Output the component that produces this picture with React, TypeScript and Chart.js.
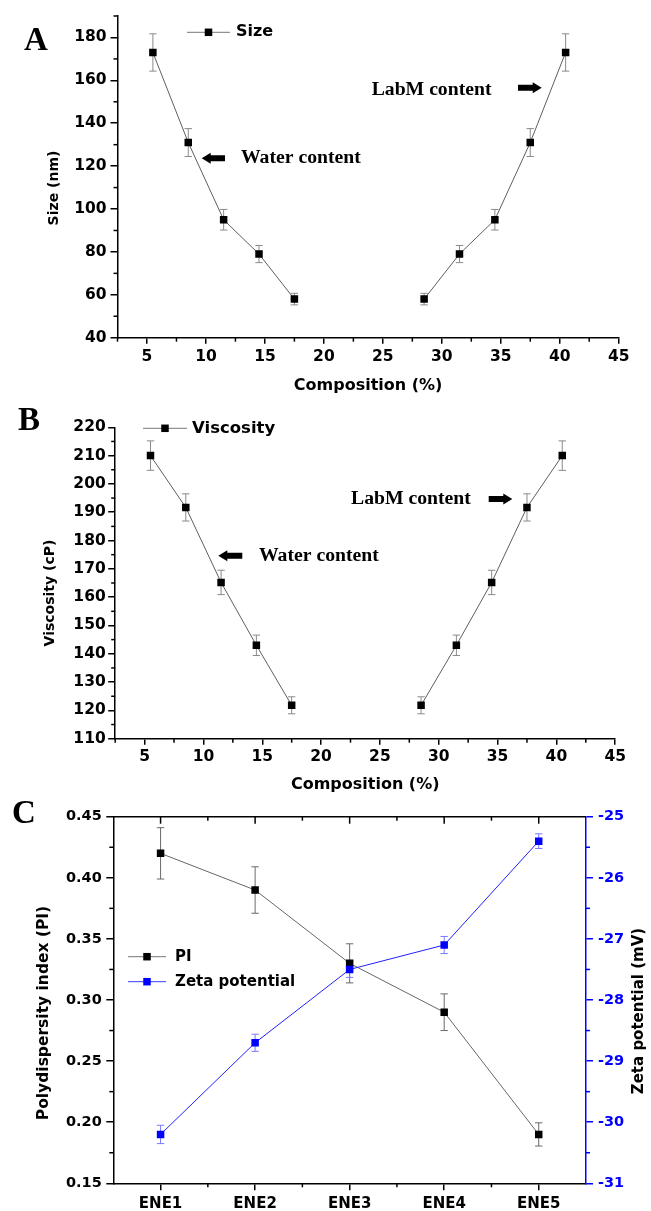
import React, { useEffect, useRef } from "react";
import { Chart, registerables } from "chart.js";

Chart.register(...registerables);

// ---------------- data ----------------
const compositionLeft = [5.5, 8.5, 11.5, 14.5, 17.5];
const compositionRight = [28.5, 31.5, 34.5, 37.5, 40.5];

const sizeLeft = [173, 131, 95, 79, 58];
const sizeLeftErr = [8.7, 6.5, 4.8, 4.0, 2.7];
const sizeRight = [58, 79, 95, 131, 173];
const sizeRightErr = [2.7, 4.0, 4.8, 6.5, 8.7];

const viscosityLeft = [210, 191.7, 165.2, 143, 121.8];
const viscosityLeftErr = [5.2, 4.8, 4.3, 3.6, 3.0];
const viscosityRight = [121.8, 143, 165.2, 191.7, 210];
const viscosityRightErr = [3.0, 3.6, 4.3, 4.8, 5.2];

const compositionTicks = [5, 10, 15, 20, 25, 30, 35, 40, 45];
const compositionMinor = [2.5, 7.5, 12.5, 17.5, 22.5, 27.5, 32.5, 37.5, 42.5];
const sizeTicks = [40, 60, 80, 100, 120, 140, 160, 180];
const sizeMinor = [50, 70, 90, 110, 130, 150, 170, 190];
const viscosityTicks = [110, 120, 130, 140, 150, 160, 170, 180, 190, 200, 210, 220];
const viscosityMinor = [115, 125, 135, 145, 155, 165, 175, 185, 195, 205, 215];

const formulations = ["ENE1", "ENE2", "ENE3", "ENE4", "ENE5"];
const formulationMinor = [0.5, 1.5, 2.5, 3.5];
const piValues = [0.42, 0.39, 0.33, 0.29, 0.19];
const piErr = [0.021, 0.019, 0.016, 0.015, 0.0095];
const zetaValues = [-30.2, -28.7, -27.5, -27.1, -25.4];
const zetaErr = [0.15, 0.14, 0.13, 0.14, 0.12];
const piTicks = [0.15, 0.2, 0.25, 0.3, 0.35, 0.4, 0.45];
const piMinor = [0.175, 0.225, 0.275, 0.325, 0.375, 0.425];
const zetaTicks = [-31, -30, -29, -28, -27, -26, -25];
const zetaMinor = [-30.5, -29.5, -28.5, -27.5, -26.5, -25.5];

// ---------------- helpers ----------------
const SANS = '"DejaVu Sans"';
const SERIF = '"Liberation Serif"';
const sansBold = (size: number) => ({ family: SANS, weight: "bold" as const, size });

function axisStyle(color: string, tickLength: number, padding: number, fontSize: number) {
  return {
    grid: { display: true, drawOnChartArea: false, drawTicks: true, tickLength, color, lineWidth: 1.5 },
    border: { display: true, color, width: 1.5 },
    ticks: { color, padding, font: sansBold(fontSize), autoSkip: false, maxRotation: 0, minRotation: 0 },
  };
}

const setTicks = (values: number[]) => (s: any) => {
  s.ticks = values.map((v) => ({ value: v }));
};

type LegendItem = { text: string; y: number; x0: number; x1: number; line: string; marker: string; textX: number; size: number };
type Note = { text: string; x: number; y: number; tip: number; tail: number; ay: number };
type Title = { text: string; x: number; y: number; size: number; color: string };
type Minor = { scale: string; values: number[]; len: number; color: string };
type Decor = {
  offsetY: number;
  letter: { text: string; x: number; y: number };
  legend: LegendItem[];
  notes: Note[];
  titles: Title[];
  minor: Minor[];
  topFrame?: { major: number[]; minor: number[] };
};

const errorBarPlugin = {
  id: "errorBars",
  beforeDatasetsDraw(chart: any) {
    const ctx: CanvasRenderingContext2D = chart.ctx;
    chart.data.datasets.forEach((ds: any, di: number) => {
      if (!ds.errors) return;
      const meta = chart.getDatasetMeta(di);
      const ys = chart.scales[meta.yAxisID];
      ctx.save();
      ctx.strokeStyle = ds.errorColor;
      ctx.lineWidth = 1;
      meta.data.forEach((pt: any, i: number) => {
        const raw = ds.data[i];
        const val = typeof raw === "number" ? raw : raw.y;
        const e = ds.errors[i];
        const x = pt.x;
        const yt = ys.getPixelForValue(val + e);
        const yb = ys.getPixelForValue(val - e);
        const w = 3.7;
        ctx.beginPath();
        ctx.moveTo(x, yt);
        ctx.lineTo(x, yb);
        ctx.moveTo(x - w, yt);
        ctx.lineTo(x + w, yt);
        ctx.moveTo(x - w, yb);
        ctx.lineTo(x + w, yb);
        ctx.stroke();
      });
      ctx.restore();
    });
  },
};

function drawArrow(ctx: CanvasRenderingContext2D, tip: number, tail: number, y: number) {
  const dir = tail > tip ? 1 : -1;
  const headLen = 9;
  const headHalf = 5.5;
  const shaftHalf = 3;
  ctx.beginPath();
  ctx.moveTo(tip, y);
  ctx.lineTo(tip + dir * headLen, y - headHalf);
  ctx.lineTo(tip + dir * headLen, y - shaftHalf);
  ctx.lineTo(tail, y - shaftHalf);
  ctx.lineTo(tail, y + shaftHalf);
  ctx.lineTo(tip + dir * headLen, y + shaftHalf);
  ctx.lineTo(tip + dir * headLen, y + headHalf);
  ctx.closePath();
  ctx.fill();
}

function makeDecor(d: Decor) {
  return {
    id: "decor",
    afterDraw(chart: any) {
      const ctx: CanvasRenderingContext2D = chart.ctx;
      const oy = d.offsetY;
      ctx.save();
      // minor ticks
      d.minor.forEach((m) => {
        const s = chart.scales[m.scale];
        ctx.strokeStyle = m.color;
        ctx.lineWidth = 1.5;
        m.values.forEach((v) => {
          const p = s.getPixelForValue(v);
          ctx.beginPath();
          if (s.isHorizontal()) {
            ctx.moveTo(p, s.top);
            ctx.lineTo(p, s.top + m.len);
          } else if (s.position === "left") {
            ctx.moveTo(s.right, p);
            ctx.lineTo(s.right - m.len, p);
          } else {
            ctx.moveTo(s.left, p);
            ctx.lineTo(s.left + m.len, p);
          }
          ctx.stroke();
        });
      });
      // top frame with inward ticks
      if (d.topFrame) {
        const ca = chart.chartArea;
        const xs = chart.scales.x;
        ctx.strokeStyle = "#000";
        ctx.lineWidth = 1.5;
        ctx.beginPath();
        ctx.moveTo(ca.left, ca.top);
        ctx.lineTo(ca.right, ca.top);
        ctx.stroke();
        d.topFrame.major.forEach((v) => {
          const p = xs.getPixelForValue(v);
          ctx.beginPath();
          ctx.moveTo(p, ca.top);
          ctx.lineTo(p, ca.top + 7);
          ctx.stroke();
        });
        d.topFrame.minor.forEach((v) => {
          const p = xs.getPixelForValue(v);
          ctx.beginPath();
          ctx.moveTo(p, ca.top);
          ctx.lineTo(p, ca.top + 4);
          ctx.stroke();
        });
      }
      // panel letter
      ctx.fillStyle = "#000";
      ctx.font = `bold 33px ${SERIF}`;
      ctx.textAlign = "left";
      ctx.textBaseline = "alphabetic";
      ctx.fillText(d.letter.text, d.letter.x, d.letter.y - oy);
      // legend
      d.legend.forEach((l) => {
        const y = l.y - oy;
        ctx.strokeStyle = l.line;
        ctx.lineWidth = 1;
        ctx.beginPath();
        ctx.moveTo(l.x0, y);
        ctx.lineTo(l.x1, y);
        ctx.stroke();
        const mx = (l.x0 + l.x1) / 2;
        ctx.fillStyle = l.marker;
        ctx.fillRect(mx - 3.75, y - 3.75, 7.5, 7.5);
        ctx.fillStyle = "#000";
        ctx.font = `bold ${l.size}px ${SANS}`;
        ctx.textAlign = "left";
        ctx.textBaseline = "middle";
        ctx.fillText(l.text, l.textX, y);
      });
      // annotations with arrows
      d.notes.forEach((n) => {
        ctx.fillStyle = "#000";
        ctx.font = `bold 19.7px ${SERIF}`;
        ctx.textAlign = "left";
        ctx.textBaseline = "middle";
        ctx.fillText(n.text, n.x, n.y - oy);
        drawArrow(ctx, n.tip, n.tail, n.ay - oy);
      });
      // rotated axis titles
      d.titles.forEach((t) => {
        ctx.save();
        ctx.translate(t.x, t.y - oy);
        ctx.rotate(-Math.PI / 2);
        ctx.fillStyle = t.color;
        ctx.font = `bold ${t.size}px ${SANS}`;
        ctx.textAlign = "center";
        ctx.textBaseline = "middle";
        ctx.fillText(t.text, 0, 0);
        ctx.restore();
      });
      ctx.restore();
    },
  };
}

const lineDataset = (label: string, xs: number[], ys: number[], errs: number[]) => ({
  label,
  data: xs.map((x, i) => ({ x, y: ys[i] })),
  errors: errs,
  errorColor: "#8a8a8a",
  borderColor: "#5e5e5e",
  borderWidth: 1,
  pointStyle: "rect",
  pointRadius: 5.3,
  pointHoverRadius: 5.3,
  pointBackgroundColor: "#000",
  pointBorderColor: "#000",
  pointBorderWidth: 0,
  fill: false,
  tension: 0,
});

function compositionChart(
  canvas: HTMLCanvasElement,
  o: {
    label: string;
    left: number[];
    leftErr: number[];
    right: number[];
    rightErr: number[];
    yMin: number;
    yMax: number;
    yTicks: number[];
    padTop: number;
    padRight: number;
    yWidth: number;
    xHeight: number;
    xTickPad: number;
    xTitlePad: number;
    yTickPad: number;
    decor: Decor;
  }
) {
  const xAxis: any = axisStyle("#000", 6, o.xTickPad, 15.5);
  const yAxis: any = axisStyle("#000", 7, o.yTickPad, 15.5);
  return new Chart(canvas, {
    type: "line",
    data: {
      datasets: [
        lineDataset(o.label, compositionLeft, o.left, o.leftErr) as any,
        lineDataset(o.label, compositionRight, o.right, o.rightErr) as any,
      ],
    },
    options: {
      responsive: false,
      animation: false,
      devicePixelRatio: 1,
      events: [],
      layout: { autoPadding: false, padding: { left: 0, top: o.padTop, right: o.padRight, bottom: 0 } },
      plugins: { legend: { display: false }, tooltip: { enabled: false } },
      scales: {
        x: {
          type: "linear",
          min: 2.5,
          max: 45,
          afterBuildTicks: setTicks(compositionTicks),
          afterFit: (s: any) => {
            s.height = o.xHeight;
          },
          ...xAxis,
          title: {
            display: true,
            text: "Composition (%)",
            color: "#000",
            font: sansBold(16),
            padding: { top: 0, bottom: o.xTitlePad },
          },
        },
        y: {
          type: "linear",
          min: o.yMin,
          max: o.yMax,
          afterBuildTicks: setTicks(o.yTicks),
          afterFit: (s: any) => {
            s.width = o.yWidth;
          },
          ...yAxis,
        },
      },
    } as any,
    plugins: [errorBarPlugin, makeDecor(o.decor)] as any,
  });
}

// ---------------- panels ----------------
function buildA(canvas: HTMLCanvasElement) {
  return compositionChart(canvas, {
    label: "Size",
    left: sizeLeft,
    leftErr: sizeLeftErr,
    right: sizeRight,
    rightErr: sizeRightErr,
    yMin: 40,
    yMax: 190,
    yTicks: sizeTicks,
    padTop: 16,
    padRight: 32.3,
    yWidth: 117.5,
    xHeight: 62.3,
    xTickPad: 3.5,
    xTitlePad: 4.4,
    yTickPad: 4,
    decor: {
      offsetY: 0,
      letter: { text: "A", x: 24, y: 50 },
      legend: [{ text: "Size", y: 32.3, x0: 187, x1: 230, line: "#777", marker: "#000", textX: 236, size: 16 }],
      notes: [
        { text: "Water content", x: 241, y: 158.3, tip: 201.7, tail: 225, ay: 158.3 },
        { text: "LabM content", x: 371.7, y: 90, tip: 541.7, tail: 518, ay: 87.7 },
      ],
      titles: [{ text: "Size (nm)", x: 54, y: 188, size: 14, color: "#000" }],
      minor: [
        { scale: "x", values: compositionMinor, len: 4, color: "#000" },
        { scale: "y", values: sizeMinor, len: 4, color: "#000" },
      ],
    },
  });
}

function buildB(canvas: HTMLCanvasElement) {
  return compositionChart(canvas, {
    label: "Viscosity",
    left: viscosityLeft,
    leftErr: viscosityLeftErr,
    right: viscosityRight,
    rightErr: viscosityRightErr,
    yMin: 110,
    yMax: 220,
    yTicks: viscosityTicks,
    padTop: 27.3,
    padRight: 35.8,
    yWidth: 115.2,
    xHeight: 56.3,
    xTickPad: 2.7,
    xTitlePad: 0.4,
    yTickPad: 2.5,
    decor: {
      offsetY: 400,
      letter: { text: "B", x: 18, y: 430 },
      legend: [{ text: "Viscosity", y: 428.3, x0: 143, x1: 187, line: "#777", marker: "#000", textX: 192, size: 16.5 }],
      notes: [
        { text: "Water content", x: 259, y: 555.7, tip: 218.3, tail: 242.3, ay: 555.7 },
        { text: "LabM content", x: 351, y: 499.3, tip: 512.3, tail: 488.7, ay: 499 },
      ],
      titles: [{ text: "Viscosity (cP)", x: 50, y: 593, size: 14, color: "#000" }],
      minor: [
        { scale: "x", values: compositionMinor, len: 4, color: "#000" },
        { scale: "y", values: viscosityMinor, len: 4, color: "#000" },
      ],
    },
  });
}

function buildC(canvas: HTMLCanvasElement) {
  const xAxis: any = axisStyle("#000", 7, 4.7, 15);
  const yAxis: any = axisStyle("#000", 7, 4.5, 14.5);
  const y2Axis: any = axisStyle("#0000ff", 7, 5, 14.5);
  const decor: Decor = {
    offsetY: 795,
    letter: { text: "C", x: 12, y: 823.3 },
    legend: [
      { text: "PI", y: 956.7, x0: 128, x1: 166, line: "#777", marker: "#000", textX: 175, size: 15 },
      { text: "Zeta potential", y: 981.7, x0: 128, x1: 166, line: "#3b3bff", marker: "#0000ff", textX: 175, size: 15 },
    ],
    notes: [],
    titles: [
      { text: "Polydispersity index (PI)", x: 43.5, y: 1013, size: 15.5, color: "#000" },
      { text: "Zeta potential (mV)", x: 639, y: 1011, size: 15, color: "#000" },
    ],
    minor: [
      { scale: "x", values: formulationMinor, len: 4, color: "#000" },
      { scale: "y", values: piMinor, len: 4, color: "#000" },
      { scale: "y2", values: zetaMinor, len: 4, color: "#0000ff" },
    ],
    topFrame: { major: [0, 1, 2, 3, 4], minor: formulationMinor },
  };
  return new Chart(canvas, {
    type: "line",
    data: {
      labels: formulations,
      datasets: [
        {
          label: "PI",
          data: piValues,
          errors: piErr,
          errorColor: "#6a6a6a",
          yAxisID: "y",
          order: 1,
          borderColor: "#666",
          borderWidth: 1,
          pointStyle: "rect",
          pointRadius: 5.3,
          pointHoverRadius: 5.3,
          pointBackgroundColor: "#000",
          pointBorderColor: "#000",
          pointBorderWidth: 0,
          fill: false,
          tension: 0,
        } as any,
        {
          label: "Zeta potential",
          data: zetaValues,
          errors: zetaErr,
          errorColor: "#7a7aff",
          yAxisID: "y2",
          order: 0,
          borderColor: "#2020ff",
          borderWidth: 1,
          pointStyle: "rect",
          pointRadius: 5.3,
          pointHoverRadius: 5.3,
          pointBackgroundColor: "#0000ff",
          pointBorderColor: "#0000ff",
          pointBorderWidth: 0,
          fill: false,
          tension: 0,
        } as any,
      ],
    },
    options: {
      responsive: false,
      animation: false,
      devicePixelRatio: 1,
      events: [],
      layout: { autoPadding: false, padding: { left: 0, top: 21.7, right: 0, bottom: 0 } },
      plugins: { legend: { display: false }, tooltip: { enabled: false } },
      scales: {
        x: {
          type: "category",
          offset: true,
          afterFit: (s: any) => {
            s.height = 27.7;
          },
          ...xAxis,
        },
        y: {
          type: "linear",
          position: "left",
          min: 0.15,
          max: 0.45,
          afterBuildTicks: setTicks(piTicks),
          afterFit: (s: any) => {
            s.width = 113.3;
          },
          ...yAxis,
          ticks: { ...yAxis.ticks, callback: (v: any) => Number(v).toFixed(2) },
        },
        y2: {
          type: "linear",
          position: "right",
          min: -31,
          max: -25,
          afterBuildTicks: setTicks(zetaTicks),
          afterFit: (s: any) => {
            s.width = 65;
          },
          ...y2Axis,
          ticks: { ...y2Axis.ticks, callback: (v: any) => String(v) },
        },
      },
    } as any,
    plugins: [errorBarPlugin, makeDecor(decor)] as any,
  });
}

function Panel({ top, height, build }: { top: number; height: number; build: (c: HTMLCanvasElement) => Chart }) {
  const ref = useRef<HTMLCanvasElement>(null);
  useEffect(() => {
    if (!ref.current) return;
    const chart = build(ref.current);
    return () => chart.destroy();
  }, [build]);
  return (
    <canvas
      ref={ref}
      width={651}
      height={height}
      style={{ position: "absolute", left: 0, top, width: 651, height, display: "block" }}
    />
  );
}

export default function App() {
  return (
    <div style={{ position: "absolute", left: 0, top: 0, width: 651, height: 1211, background: "#fff", overflow: "hidden" }}>
      <Panel top={0} height={400} build={buildA} />
      <Panel top={400} height={395} build={buildB} />
      <Panel top={795} height={416} build={buildC} />
    </div>
  );
}
